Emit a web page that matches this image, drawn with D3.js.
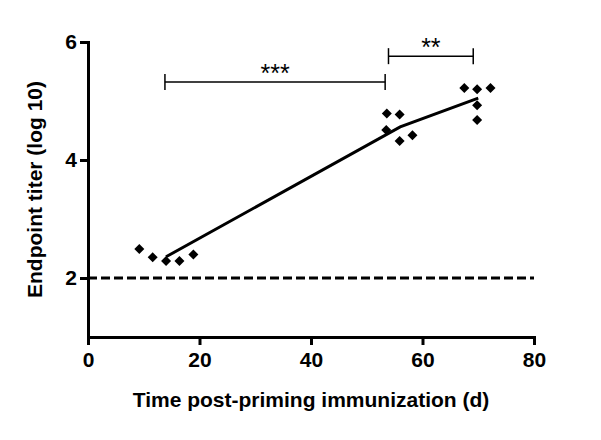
<!DOCTYPE html>
<html lang="en">
<head>
  <meta charset="UTF-8">
  <title>Endpoint titer over time</title>
  <style>
    body { margin: 0; background: #fff; }
    text { font-family: "Liberation Sans", Arial, sans-serif; }
    .axis path, .axis line { stroke: #000; stroke-width: 3px; }
    .axis text { font-size: 21px; font-weight: bold; fill: #000; }
  </style>
</head>
<body>
  <div id="chart"></div>
  <script src="https://d3js.org/d3.v7.min.js"></script>
  <script>
    // Individual animals (day is jittered around 14, 56, 70)
    const pointDays = [9.2, 11.6, 14.0, 16.4, 18.9,
                       53.6, 55.9, 53.5, 55.9, 58.2,
                       67.5, 69.8, 72.2, 69.8, 69.8];
    const pointTiters = [2.49, 2.35, 2.29, 2.29, 2.40,
                         4.79, 4.77, 4.51, 4.32, 4.42,
                         5.22, 5.20, 5.22, 4.93, 4.68];

    // Mean line
    const meanDays = [14, 56, 70];
    const meanTiters = [2.36, 4.56, 5.05];

    // Detection limit
    const cutoff = 2;

    // Significance brackets
    const sigFrom = [13.8, 53.9];
    const sigTo = [53.3, 69.1];
    const sigLevel = [5.32, 5.76];
    const sigLabel = ["***", "**"];

    const xTicks = [0, 20, 40, 60, 80];
    const yTicks = [2, 4, 6];

    const width = 601, height = 440;
    const margin = { top: 42, right: 67, bottom: 103, left: 88 };

    const svg = d3.select("#chart").append("svg")
      .attr("width", width)
      .attr("height", height);

    const x = d3.scaleLinear().domain([0, 80]).range([margin.left, width - margin.right]);
    const y = d3.scaleLinear().domain([1, 6]).range([height - margin.bottom, margin.top]);

    // dashed cutoff
    svg.append("line")
      .attr("x1", x(0)).attr("x2", x(80))
      .attr("y1", y(cutoff)).attr("y2", y(cutoff))
      .attr("stroke", "#000")
      .attr("stroke-width", 3)
      .attr("stroke-dasharray", "9,4");

    // axes
    svg.append("g")
      .attr("class", "axis")
      .attr("transform", `translate(0,${y(1)})`)
      .call(d3.axisBottom(x).tickValues(xTicks).tickFormat(d3.format("d"))
        .tickSize(8).tickSizeOuter(0).tickPadding(7));

    svg.append("g")
      .attr("class", "axis")
      .attr("transform", `translate(${x(0)},0)`)
      .call(d3.axisLeft(y).tickValues(yTicks).tickFormat(d3.format("d"))
        .tickSize(8).tickSizeOuter(0).tickPadding(3));

    svg.selectAll(".axis .domain").attr("stroke-linecap", "square");

    // mean line
    const line = d3.line().x(d => x(d[0])).y(d => y(d[1]));
    svg.append("path")
      .datum(meanDays.map((d, i) => [d, meanTiters[i]]))
      .attr("d", line)
      .attr("fill", "none")
      .attr("stroke", "#000")
      .attr("stroke-width", 3);

    // points as diamonds
    const diamond = d3.symbol().type(d3.symbolSquare).size(50);
    svg.selectAll(".pt")
      .data(pointDays.map((d, i) => [d, pointTiters[i]]))
      .join("path")
      .attr("class", "pt")
      .attr("d", diamond)
      .attr("transform", d => `translate(${x(d[0])},${y(d[1])}) rotate(45)`)
      .attr("fill", "#000");

    // significance brackets
    sigFrom.forEach((s, i) => {
      const g = svg.append("g").attr("stroke", "#000").attr("stroke-width", 1.5);
      const yy = y(sigLevel[i]);
      g.append("line").attr("x1", x(s)).attr("x2", x(sigTo[i])).attr("y1", yy).attr("y2", yy);
      g.append("line").attr("x1", x(s)).attr("x2", x(s)).attr("y1", yy - 8).attr("y2", yy + 8);
      g.append("line").attr("x1", x(sigTo[i])).attr("x2", x(sigTo[i])).attr("y1", yy - 8).attr("y2", yy + 8);
      svg.append("text")
        .attr("x", (x(s) + x(sigTo[i])) / 2)
        .attr("y", yy)
        .attr("text-anchor", "middle")
        .attr("font-size", "25px")
        .text(sigLabel[i]);
    });

    // axis titles
    svg.append("text")
      .attr("x", (x(0) + x(80)) / 2)
      .attr("y", 407)
      .attr("text-anchor", "middle")
      .attr("font-size", "21px")
      .attr("font-weight", "bold")
      .text("Time post-priming immunization (d)");

    svg.append("text")
      .attr("transform", `translate(42,${(y(1) + y(6)) / 2}) rotate(-90)`)
      .attr("text-anchor", "middle")
      .attr("font-size", "21px")
      .attr("font-weight", "bold")
      .text("Endpoint titer (log 10)");
  </script>
</body>
</html>
